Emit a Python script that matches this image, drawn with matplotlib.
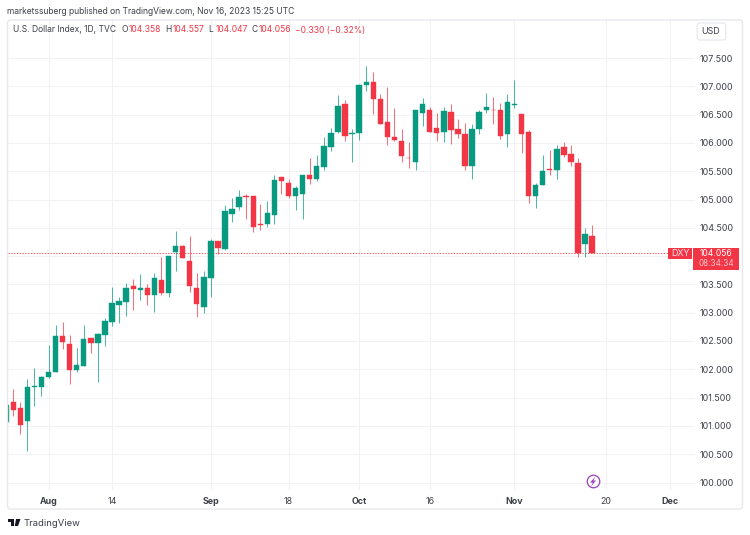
import matplotlib
matplotlib.use('Agg')
import matplotlib.pyplot as plt
from matplotlib.patches import FancyBboxPatch, Polygon, Rectangle
import numpy as np

# daily candles, first one is cut off by the left edge; index 0 = Aug 1 2023
first_idx = -6
opens = [101.07, 101.42, 101.32, 101.09, 101.68, 101.69, 101.86, 101.95, 102.58, 102.45, 101.99, 102.05,
         102.55, 102.47, 102.61, 102.84, 103.14, 103.19, 103.47, 103.40, 103.43, 103.32, 103.58, 103.34,
         104.08, 104.18, 103.92, 103.44, 103.10, 103.61, 104.26, 104.12, 104.74, 104.86, 105.06, 105.06,
         104.56, 104.56, 104.73, 105.39, 105.30, 105.07, 105.10, 105.43, 105.37, 105.57, 105.93, 106.20,
         106.68, 106.15, 106.17, 107.02, 107.07, 106.77, 106.37, 106.10, 106.04, 105.74, 105.67, 106.52,
         106.58, 106.26, 106.20, 106.54, 106.25, 106.16, 105.60, 106.24, 106.58, 106.59, 106.58, 106.16,
         106.67, 106.51, 106.20, 105.06, 105.26, 105.54, 105.53, 105.93, 105.80, 105.65, 104.21, 104.358]
highs = [101.37, 101.65, 101.43, 101.83, 102.03, 101.89, 102.43, 102.78, 102.84, 102.61, 102.38, 102.79,
         102.55, 102.65, 102.90, 103.45, 103.27, 103.52, 103.60, 103.68, 103.50, 103.71, 103.98, 104.00,
         104.44, 104.20, 104.36, 103.70, 103.74, 104.30, 104.27, 104.91, 105.02, 105.16, 105.09, 105.06,
         104.92, 104.97, 105.43, 105.40, 105.36, 105.23, 105.43, 105.74, 105.78, 106.10, 106.26, 106.84,
         106.76, 106.25, 107.04, 107.36, 107.25, 106.86, 106.98, 106.61, 106.25, 106.02, 106.58, 106.79,
         106.63, 106.53, 106.64, 106.68, 106.42, 106.35, 106.33, 106.58, 106.89, 106.81, 106.71, 106.87,
         107.12, 106.51, 106.22, 105.30, 105.78, 105.88, 105.96, 106.01, 105.96, 105.73, 104.50, 104.557]
lows = [101.07, 101.18, 100.86, 100.55, 101.35, 101.52, 101.85, 101.95, 102.36, 101.74, 101.96, 102.05,
        102.29, 101.77, 102.41, 102.77, 102.82, 102.94, 103.05, 103.22, 103.14, 103.01, 103.31, 103.27,
        103.74, 103.97, 103.37, 102.93, 103.00, 103.27, 104.03, 104.11, 104.60, 104.81, 104.66, 104.43,
        104.46, 104.52, 104.56, 105.09, 105.03, 104.82, 104.66, 105.27, 105.33, 105.53, 105.86, 106.17,
        106.03, 105.67, 106.05, 106.92, 106.51, 106.33, 105.96, 106.03, 105.67, 105.56, 105.53, 106.29,
        106.19, 106.03, 106.02, 105.98, 106.08, 105.52, 105.36, 106.15, 106.53, 106.33, 106.07, 105.92,
        106.62, 105.82, 104.94, 104.85, 105.26, 105.44, 105.37, 105.75, 105.59, 103.99, 103.98, 104.047]
closes = [101.37, 101.28, 101.02, 101.68, 101.70, 101.86, 101.95, 102.58, 102.48, 101.99, 102.07, 102.54,
          102.47, 102.62, 102.85, 103.17, 103.20, 103.44, 103.42, 103.43, 103.31, 103.61, 103.35, 104.00,
          104.18, 103.97, 103.47, 103.15, 103.63, 104.26, 104.14, 104.79, 104.83, 105.04, 105.05, 104.52,
          104.55, 104.76, 105.35, 105.33, 105.06, 105.21, 105.43, 105.37, 105.59, 105.95, 106.17, 106.65,
          106.12, 106.18, 107.03, 107.08, 106.78, 106.33, 106.10, 106.06, 105.77, 105.73, 106.58, 106.68,
          106.20, 106.18, 106.56, 106.23, 106.16, 105.59, 106.24, 106.55, 106.63, 106.58, 106.13, 106.72,
          106.69, 106.16, 105.06, 105.26, 105.50, 105.53, 105.90, 105.79, 105.66, 104.06, 104.39, 104.056]

time_ticks = [0, 9, 23, 34, 44, 54, 66, 79, 88]
time_labels = ['Aug', '14', 'Sep', '18', 'Oct', '16', 'Nov', '20', 'Dec']
month_labels = ['Aug', 'Sep', 'Oct', 'Nov', 'Dec']
price_ticks = [100.0, 100.5, 101.0, 101.5, 102.0, 102.5, 103.0, 103.5, 104.0, 104.5,
               105.0, 105.5, 106.0, 106.5, 107.0, 107.5]
last_price = 104.056
ohlc_parts = [('O', '104.358'), ('H', '104.557'), ('L', '104.047'), ('C', '104.056')]

W, H = 750, 535
GREEN = '#089981'
RED = '#f23645'
GRID = '#f0f2f6'
TEXT = '#3d4048'
PURPLE = '#9c3fb8'
FONT = 'Inter'


def fx(x):
    return x / W


def fy(y):
    return 1 - y / H


fig = plt.figure(figsize=(W / 100, H / 100), dpi=100, facecolor='white')
plt.rcParams['font.family'] = [FONT, 'DejaVu Sans']

# outer rounded frame of the widget
frame = FancyBboxPatch((fx(9), fy(508)), fx(732), 487 / H, boxstyle='round,pad=0.002,rounding_size=0.005',
                       transform=fig.transFigure, facecolor='none', edgecolor='#e6e8ec', linewidth=1.0)
fig.add_artist(frame)

# pane goes from x=7.5 to 695 and y=19.5 to 490 in pixels
ax = fig.add_axes([fx(7.5), fy(490), fx(695 - 7.5), (490 - 19.5) / H])
ax.set_xlim((7.5 - 48.5) / 7.06, (695 - 48.5) / 7.06)
ax.set_ylim(100 + (482.5 - 490) / 56.6, 100 + (482.5 - 19.5) / 56.6)
ax.patch.set_alpha(0)
for side in ax.spines.values():
    side.set_visible(False)

ax.set_xticks(time_ticks)
ax.set_xticklabels(time_labels)
for lab in ax.get_xticklabels():
    lab.set_fontsize(6.4)
    lab.set_color(TEXT)
    if lab.get_text() in month_labels:
        lab.set_fontweight('bold')
ax.set_yticks(price_ticks)
# 104.000 sits behind the price tag in the original
ax.set_yticklabels(['' if p == 104.0 else f'{p:.3f}' for p in price_ticks], fontsize=6.4, color=TEXT)
ax.yaxis.tick_right()
ax.tick_params(axis='both', length=0)
ax.tick_params(axis='x', pad=4.8)
ax.tick_params(axis='y', pad=3)
ax.grid(True, color=GRID, linewidth=0.8)
ax.set_axisbelow(True)

idx = np.arange(first_idx, first_idx + len(opens))
o = np.array(opens)
c = np.array(closes)
colors = [GREEN if b >= a else RED for a, b in zip(o, c)]
ax.vlines(idx, lows, highs, colors=colors, linewidth=0.75, alpha=0.7, zorder=2)
ax.bar(idx, np.abs(c - o), bottom=np.minimum(o, c), width=0.76, color=colors,
       edgecolor=colors, linewidth=0.3, zorder=3)

# last price line, stops at the DXY tag
ax.axhline(last_price, xmax=(668 - 7.5) / (695 - 7.5), color='#f7606c', linewidth=0.72,
           linestyle=(0, (1.4, 1.4)), zorder=1)

# lightning marker near the bottom
ax.scatter([77.1], [100.018], s=82, facecolor='white', edgecolor=PURPLE, linewidth=0.9, zorder=4)
bolt = [(595.5, 476.5), (590, 482.5), (592.8, 482.5), (591, 486.5), (596, 480.5), (593.3, 480.5)]
fig.add_artist(Polygon([(fx(a), fy(b)) for a, b in bolt], closed=True, transform=fig.transFigure,
                       facecolor=PURPLE, edgecolor='none'))

# price tags on the right
fig.add_artist(Rectangle((fx(668.3), fy(259)), 23.7 / W, 11.3 / H, transform=fig.transFigure,
                         facecolor=RED, edgecolor='none'))
fig.add_artist(Rectangle((fx(693), fy(269.5)), 46 / W, 21.8 / H, transform=fig.transFigure,
                         facecolor=RED, edgecolor='none'))
fig.text(fx(680), fy(253.4), 'DXY', fontsize=6.4, color='#ffe3e6', ha='center', va='center')
fig.text(fx(716), fy(253), '104.056', fontsize=6.2, color='white', ha='center', va='center')
fig.text(fx(716), fy(264), '08:34:34', fontsize=5.8, color='#ffc4ca', ha='center', va='center')

# USD button
usd = FancyBboxPatch((fx(698), fy(39.5)), 27 / W, 16 / H, boxstyle='round,pad=0.001,rounding_size=0.004',
                     transform=fig.transFigure, facecolor='white', edgecolor='#e4e6ea', linewidth=0.8)
fig.add_artist(usd)
fig.text(fx(711), fy(31), 'USD', fontsize=6.4, color=TEXT, ha='center', va='center')

# header
fig.text(fx(7), fy(11), 'marketssuberg published on TradingView.com, Nov 16, 2023 15:25 UTC',
         fontsize=6.1, color=TEXT, va='center')
fig.text(fx(13), fy(30), 'U.S. Dollar Index, 1D, TVC', fontsize=6.1, color=TEXT, va='center')
x_pos = [121, 165.5, 208.5, 251]
for (letter, value), x in zip(ohlc_parts, x_pos):
    fig.text(fx(x), fy(30), letter, fontsize=6.1, color=TEXT, va='center')
    fig.text(fx(x + 7.5), fy(30), value, fontsize=6.1, color=RED, va='center')
fig.text(fx(295), fy(30), '\u22120.330 (\u22120.32%)', fontsize=6.1, color=RED, va='center')

# TradingView logo, rough shape of the mark
logo_t = [(7.5, 519), (14, 519), (14, 526), (11, 526), (11, 522), (7.5, 522)]
logo_v = [(16, 519), (20.5, 519), (18, 526), (14.8, 526)]
for shape in (logo_t, logo_v):
    fig.add_artist(Polygon([(fx(a), fy(b)) for a, b in shape], closed=True, transform=fig.transFigure,
                           facecolor='#131722', edgecolor='none'))
fig.text(fx(24), fy(523), 'TradingView', fontsize=6.8, color='#3a3e48', va='center')

fig.savefig('out.png', dpi=100, facecolor='white')
